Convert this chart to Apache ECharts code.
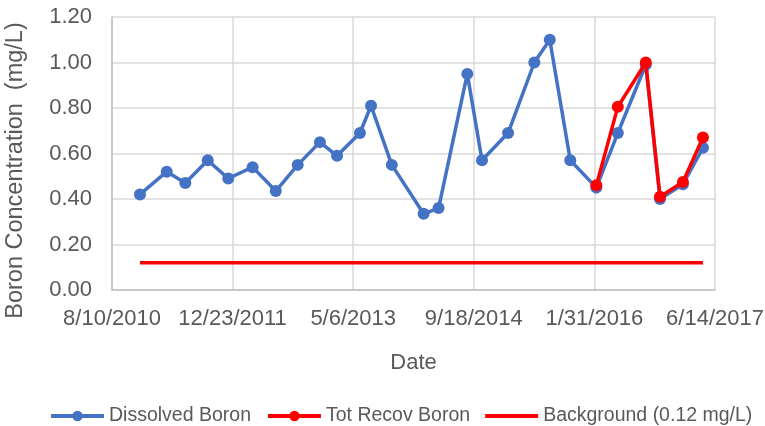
<!DOCTYPE html>
<html>
<head>
<meta charset="utf-8">
<script src="https://cdn.jsdelivr.net/npm/echarts@6/dist/echarts.min.js"></script>
<style>
html, body { margin: 0; padding: 0; background: #fff; }
#chart { width: 765px; height: 426px; }
</style>
</head>
<body>
<div id="chart"></div>
<script>
// x axis runs in days counted from 8/10/2010, one tick every 500 days
var axisStart = '2010-08-10';
var tickDays = 500;

var dissolvedDates = ['2010-12-04', '2011-03-25', '2011-06-10', '2011-09-11', '2011-12-05', '2012-03-15',
    '2012-06-19', '2012-09-18', '2012-12-19', '2013-02-28', '2013-06-03', '2013-07-19', '2013-10-13',
    '2014-02-22', '2014-04-25', '2014-08-22', '2014-10-22', '2015-02-07', '2015-05-27', '2015-07-30',
    '2015-10-23', '2016-02-08', '2016-05-07', '2016-08-31', '2016-10-29', '2017-02-01', '2017-04-25'];
var dissolvedBoron = [0.42, 0.52, 0.47, 0.57, 0.49, 0.54, 0.435, 0.55, 0.65, 0.59, 0.69, 0.81, 0.55,
    0.335, 0.36, 0.95, 0.57, 0.69, 1.00, 1.10, 0.57, 0.45, 0.69, 0.99, 0.40, 0.465, 0.625];

var totRecovDates = ['2016-02-08', '2016-05-07', '2016-08-31', '2016-10-29', '2017-02-01', '2017-04-25'];
var totRecovBoron = [0.46, 0.805, 1.00, 0.41, 0.475, 0.67];

var backgroundDates = ['2010-12-04', '2017-04-25'];
var backgroundBoron = [0.12, 0.12];

var DAY = 86400000;
function dayOf(s) {
    return Math.round((Date.parse(s) - Date.parse(axisStart)) / DAY);
}
function pairs(dates, vals) {
    var out = [];
    for (var i = 0; i < dates.length; i++) {
        out.push([dayOf(dates[i]), vals[i]]);
    }
    return out;
}
function dayLabel(v) {
    var d = new Date(Date.parse(axisStart) + v * DAY);
    return (d.getUTCMonth() + 1) + '/' + d.getUTCDate() + '/' + d.getUTCFullYear();
}

var textColor = '#595959';
var font = 'Liberation Sans';

var myChart = echarts.init(document.getElementById('chart'));
var option = {
    animation: false,
    grid: {
        left: 112,
        right: 50,
        top: 17,
        bottom: 136,
        outerBoundsMode: 'none'
    },
    legend: {
        left: 44,
        top: 401,
        itemWidth: 53,
        itemHeight: 13,
        itemGap: 15,
        lineStyle: { width: 4 },
        textStyle: {
            color: textColor,
            fontFamily: font,
            fontSize: 19.5
        },
        data: [
            'Dissolved Boron',
            'Tot Recov Boron',
            // plain line icon, no marker
            { name: 'Background (0.12 mg/L)', icon: 'path://M0 0H53V4H0Z' }
        ]
    },
    xAxis: {
        type: 'value',
        min: 0,
        max: tickDays * 5,
        interval: tickDays,
        name: 'Date',
        nameLocation: 'middle',
        nameGap: 62,
        nameTextStyle: { color: textColor, fontFamily: font, fontSize: 22 },
        axisLine: { show: true, lineStyle: { color: '#bfbfbf', width: 1.5 } },
        axisTick: { show: false },
        splitLine: { show: true, lineStyle: { color: '#d9d9d9', width: 1.5 } },
        axisLabel: {
            color: textColor,
            fontFamily: font,
            fontSize: 22,
            margin: 18,
            formatter: dayLabel
        }
    },
    yAxis: {
        type: 'value',
        min: 0,
        max: 1.2,
        interval: 0.2,
        name: 'Boron Concentration  (mg/L)',
        nameLocation: 'middle',
        nameGap: 84,
        nameTextStyle: { color: textColor, fontFamily: font, fontSize: 23.5, padding: [0, 34, 0, 0] },
        axisLine: { show: true, lineStyle: { color: '#bfbfbf', width: 1.5 } },
        axisTick: { show: false },
        splitLine: { lineStyle: { color: '#d9d9d9', width: 1.5 } },
        axisLabel: {
            color: textColor,
            fontFamily: font,
            fontSize: 22,
            margin: 20,
            formatter: function (v) { return v.toFixed(2); }
        }
    },
    series: [
        {
            name: 'Dissolved Boron',
            type: 'line',
            data: pairs(dissolvedDates, dissolvedBoron),
            symbol: 'circle',
            symbolSize: 12,
            itemStyle: { color: '#4472C4' },
            lineStyle: { color: '#4472C4', width: 3.5 },
            z: 3
        },
        {
            name: 'Tot Recov Boron',
            type: 'line',
            data: pairs(totRecovDates, totRecovBoron),
            symbol: 'circle',
            symbolSize: 12,
            itemStyle: { color: '#FF0000' },
            lineStyle: { color: '#FF0000', width: 3.5 },
            z: 4
        },
        {
            name: 'Background (0.12 mg/L)',
            type: 'line',
            data: pairs(backgroundDates, backgroundBoron),
            symbol: 'none',
            itemStyle: { color: '#FF0000' },
            lineStyle: { color: '#FF0000', width: 3.5 },
            z: 2
        }
    ]
};
myChart.setOption(option);
</script>
</body>
</html>
